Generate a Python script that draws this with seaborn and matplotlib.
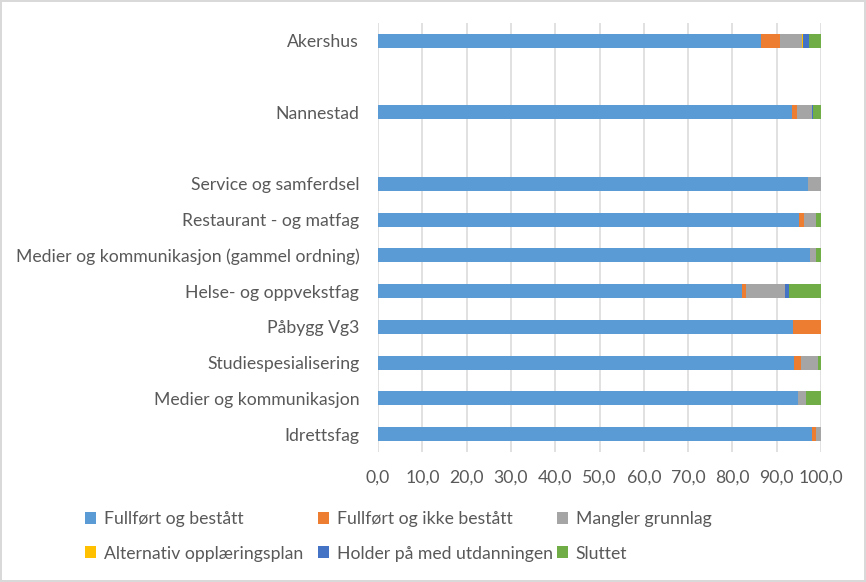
import matplotlib
matplotlib.use("Agg")
import matplotlib.pyplot as plt
import seaborn as sns
import pandas as pd
from matplotlib.patches import Patch

categories = ["Akershus", " ", "Nannestad", "  ", "Service og samferdsel",
              "Restaurant - og matfag", "Medier og kommunikasjon (gammel ordning)",
              "Helse- og oppvekstfag", "Påbygg Vg3", "Studiespesialisering",
              "Medier og kommunikasjon", "Idrettsfag"]
series_names = ["Fullført og bestått", "Fullført og ikke bestått", "Mangler grunnlag",
                "Alternativ opplæringsplan", "Holder på med utdanningen", "Sluttet"]
fullfort_bestatt = [86.4, 0, 93.5, 0, 97.1, 95.0, 97.6, 82.2, 93.7, 93.9, 94.8, 97.9]
fullfort_ikke_bestatt = [4.3, 0, 1.1, 0, 0.0, 1.2, 0.0, 0.9, 6.3, 1.5, 0.0, 1.0]
mangler_grunnlag = [5.1, 0, 3.3, 0, 2.9, 2.7, 1.3, 8.8, 0.0, 3.9, 1.8, 1.1]
alternativ_plan = [0.2, 0, 0.0, 0, 0.0, 0.0, 0.0, 0.0, 0.0, 0.0, 0.0, 0.0]
holder_pa = [1.3, 0, 0.2, 0, 0.0, 0.0, 0.0, 0.9, 0.0, 0.0, 0.0, 0.0]
sluttet = [2.7, 0, 1.9, 0, 0.0, 1.1, 1.1, 7.2, 0.0, 0.7, 3.4, 0.0]
colors = ["#5B9BD5", "#ED7D31", "#A5A5A5", "#FFC000", "#4472C4", "#70AD47"]
xticks = [0, 10, 20, 30, 40, 50, 60, 70, 80, 90, 100]

values = [fullfort_bestatt, fullfort_ikke_bestatt, mangler_grunnlag,
          alternativ_plan, holder_pa, sluttet]
df = pd.DataFrame({n: v for n, v in zip(series_names, values)}, index=categories)
cum = df.cumsum(axis=1)

sns.set_theme(style="white")
plt.rcParams['font.family'] = ['Lato', 'DejaVu Sans']
TXT = "#595959"
FS = 12.7

fig = plt.figure(figsize=(8.66, 5.82), dpi=100)
fig.patch.set_edgecolor("#d9d9d9")
fig.patch.set_linewidth(1.5)
ax = fig.add_axes([378/866, 1-452/582, (821-378)/866, (452-23)/582])

for i in range(len(series_names) - 1, -1, -1):
    d = pd.DataFrame({"cat": categories, "val": cum.iloc[:, i].values})
    sns.barplot(data=d, x="val", y="cat", order=categories, orient="h",
                color=colors[i], saturation=1, width=0.39, ax=ax,
                errorbar=None, linewidth=0)

ax.set_xlim(0, 100)
ax.set_ylim(len(categories) - 0.5, -0.5)
ax.set_xticks(xticks)
ax.set_xticklabels([f"{t:.1f}".replace(".", ",") for t in xticks])
ax.grid(axis="x", color="#d9d9d9", lw=1.1)
ax.set_axisbelow(True)
for s in ax.spines.values():
    s.set_visible(False)
ax.set_xlabel("")
ax.set_ylabel("")
ax.tick_params(axis="x", length=4, color="#d9d9d9", pad=9, labelsize=FS, labelcolor=TXT)
ax.tick_params(axis="y", length=0, pad=13.5, labelsize=FS, labelcolor=TXT)

cols = [[0, 3], [1, 4], [2, 5]]
xpos = [85, 318, 557]
for c, xp in zip(cols, xpos):
    handles = [Patch(facecolor=colors[k], edgecolor="none") for k in c]
    labels = [series_names[k] for k in c]
    leg = fig.legend(handles, labels, loc="upper left",
                     bbox_to_anchor=(xp/866, 1-511/582), frameon=False,
                     fontsize=FS, handlelength=0.65, handleheight=0.65,
                     handletextpad=0.4, labelspacing=1.05, borderpad=0,
                     borderaxespad=0)
    for t in leg.get_texts():
        t.set_color(TXT)

fig.savefig("out.png", dpi=100)
